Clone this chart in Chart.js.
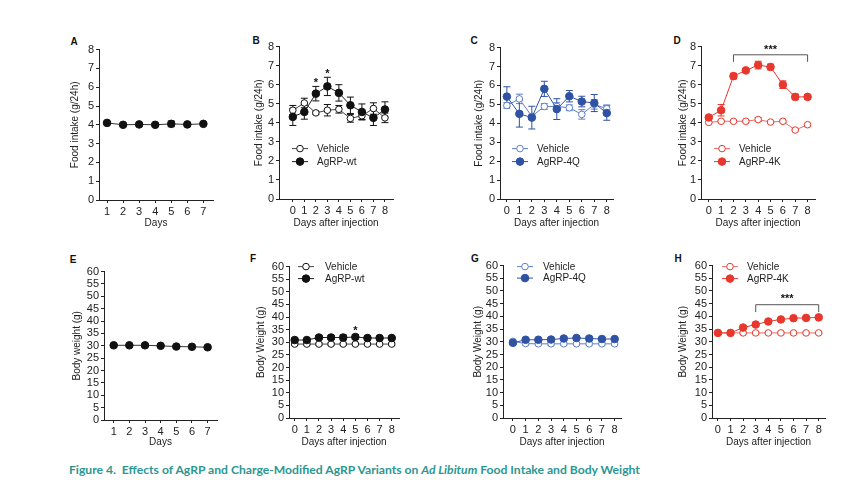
<!DOCTYPE html>
<html>
<head>
<meta charset="utf-8">
<script src="https://cdn.jsdelivr.net/npm/chart.js@4.4.0/dist/chart.umd.min.js"></script>
<style>
  body { margin: 0; background: #fff; width: 864px; height: 480px; position: relative; overflow: hidden; font-family: "Liberation Sans", Arial, sans-serif; }
  .panel { position: absolute; }
  .tag { position: absolute; font-weight: bold; font-size: 10px; color: #111; transform: translate(-50%, -50%); }
  #caption { position: absolute; left: 69px; top: 463px; font-family: Lato, "Liberation Sans", sans-serif; font-weight: bold; font-size: 11px; color: #2a9792; white-space: nowrap; transform-origin: left center; }
</style>
</head>
<body>
<div class="tag" style="left:74px;top:41px">A</div>
<div class="tag" style="left:256px;top:40px">B</div>
<div class="tag" style="left:474px;top:40px">C</div>
<div class="tag" style="left:677px;top:40px">D</div>
<div class="tag" style="left:73px;top:259px">E</div>
<div class="tag" style="left:253px;top:258px">F</div>
<div class="tag" style="left:475px;top:258px">G</div>
<div class="tag" style="left:678px;top:258px">H</div>
<div id="caption">Figure 4.&nbsp; Effects of AgRP and Charge-Modified AgRP Variants on <i>Ad Libitum</i> Food Intake and Body Weight</div>

<script>
// days
const daysA = [1, 2, 3, 4, 5, 6, 7];
const daysInj = [0, 1, 2, 3, 4, 5, 6, 7, 8];

// A - food intake, baseline
const foodA = [4.1, 4.0, 4.02, 4.0, 4.05, 4.02, 4.05];
const foodAErr = [0.06, 0.05, 0.05, 0.05, 0.15, 0.05, 0.05];

// B - AgRP-wt
const foodVehB = [4.66, 5.04, 4.52, 4.66, 4.71, 4.23, 4.37, 4.75, 4.26];
const foodVehBErr = [0.25, 0.25, 0.08, 0.3, 0.2, 0.2, 0.2, 0.3, 0.25];
const foodWtB = [4.31, 4.57, 5.53, 5.91, 5.57, 4.92, 4.57, 4.26, 4.7];
const foodWtBErr = [0.45, 0.38, 0.38, 0.48, 0.43, 0.43, 0.42, 0.4, 0.4];

// C - AgRP-4Q
const foodVehC = [4.94, 5.29, 4.37, 4.89, 4.89, 4.82, 4.47, 5.0, 4.77];
const foodVehCErr = [0.15, 0.25, 0.1, 0.15, 0.2, 0.15, 0.25, 0.25, 0.2];
const food4QC = [5.41, 4.5, 4.3, 5.82, 4.75, 5.43, 5.15, 5.07, 4.54];
const food4QCErr = [0.52, 0.7, 0.6, 0.4, 0.55, 0.3, 0.28, 0.45, 0.38];

// D - AgRP-4K
const foodVehD = [4.02, 4.08, 4.08, 4.08, 4.17, 4.04, 4.08, 3.62, 3.9];
const foodVehDErr = [0.05, 0.05, 0.05, 0.05, 0.1, 0.05, 0.05, 0.05, 0.05];
const food4KD = [4.28, 4.66, 6.45, 6.75, 7.03, 6.93, 6.0, 5.36, 5.36];
const food4KDErr = [0.06, 0.3, 0.15, 0.08, 0.2, 0.15, 0.2, 0.15, 0.12];

// E - body weight, baseline
const bwE = [30.2, 30.2, 30.2, 30.0, 29.7, 29.6, 29.4];
const bwEErr = [0.4, 0.4, 0.4, 0.4, 0.4, 0.4, 0.4];

// F
const bwVehF = [29.3, 29.3, 29.3, 29.3, 29.3, 29.3, 29.3, 29.3, 29.3];
const bwVehFErr = [0.5, 0.5, 0.5, 0.5, 0.5, 0.5, 0.5, 0.5, 0.5];
const bwWtF = [30.9, 30.9, 31.9, 31.9, 31.9, 32.1, 31.7, 31.7, 31.7];
const bwWtFErr = [0.8, 0.6, 0.7, 0.8, 1.0, 0.9, 0.6, 0.6, 0.6];

// G
const bwVehG = [30.2, 29.3, 29.2, 29.2, 29.2, 29.2, 29.2, 29.2, 29.2];
const bwVehGErr = [0.5, 0.5, 0.5, 0.5, 0.5, 0.5, 0.5, 0.5, 0.5];
const bw4QG = [29.6, 30.8, 30.8, 30.9, 31.3, 31.5, 31.3, 31.1, 31.1];
const bw4QGErr = [0.6, 0.6, 0.6, 0.6, 0.6, 0.6, 0.6, 0.6, 0.6];

// H
const bwVehH = [33.5, 33.5, 33.5, 33.5, 33.5, 33.5, 33.5, 33.5, 33.5];
const bwVehHErr = [0.4, 0.4, 0.4, 0.4, 0.4, 0.4, 0.4, 0.4, 0.4];
const bw4KH = [33.5, 33.5, 35.6, 36.8, 38.0, 38.8, 39.3, 39.4, 39.6];
const bw4KHErr = [0.5, 0.5, 0.5, 0.5, 0.5, 0.5, 0.5, 0.5, 0.5];

const foodTicks = [0, 1, 2, 3, 4, 5, 6, 7, 8];
const bwTicks = [0, 5, 10, 15, 20, 25, 30, 35, 40, 45, 50, 55, 60];

const BLACK = "#111111";
const BLUE = "#2f52a5", BLUE_LT = "#5f7fc8";
const RED = "#e8382d", RED_LT = "#ef6a63";
const FONT = { family: "'Liberation Sans', Arial, sans-serif", size: 10 };
const TICK_FONT = { family: "'Liberation Sans', Arial, sans-serif", size: 11 };

function pts(xs, ys) {
  return xs.map((x, i) => ({ x: x, y: ys[i] }));
}

function series(label, xs, ys, errs, color, lineColor, filled) {
  return {
    label: label,
    data: pts(xs, ys),
    errBars: errs,
    borderColor: lineColor,
    borderWidth: 1,
    pointRadius: filled ? 3.8 : 3.3,
    pointBorderWidth: 1,
    pointBorderColor: color,
    pointBackgroundColor: filled ? color : "#ffffff",
    markColor: color,
    filled: filled,
    order: filled ? 0 : 1,
    tension: 0
  };
}

// error bars under the markers
const errorBars = {
  id: "errorBars",
  beforeDatasetsDraw(chart) {
    const { ctx, scales: { x, y } } = chart;
    ctx.save();
    ctx.lineWidth = 1;
    chart.data.datasets.forEach(ds => {
      if (!ds.errBars) return;
      ctx.strokeStyle = ds.markColor;
      ds.data.forEach((p, i) => {
        const e = ds.errBars[i];
        const px = x.getPixelForValue(p.x);
        const y1 = y.getPixelForValue(p.y + e), y2 = y.getPixelForValue(p.y - e);
        ctx.beginPath();
        ctx.moveTo(px, y1); ctx.lineTo(px, y2);
        ctx.moveTo(px - 3.5, y1); ctx.lineTo(px + 3.5, y1);
        ctx.moveTo(px - 3.5, y2); ctx.lineTo(px + 3.5, y2);
        ctx.stroke();
      });
    });
    ctx.restore();
  }
};

// stars, brackets and the little legend
const extras = {
  id: "extras",
  afterDatasetsDraw(chart, args, opts) {
    const { ctx, chartArea, scales: { x, y } } = chart;
    ctx.save();
    if (opts.bracket) {
      const b = opts.bracket;
      const x1 = x.getPixelForValue(b.x1), x2 = x.getPixelForValue(b.x2);
      const yb = y.getPixelForValue(b.y), yd = y.getPixelForValue(b.drop);
      ctx.strokeStyle = "#555";
      ctx.lineWidth = 1;
      ctx.beginPath();
      ctx.moveTo(x1, yd); ctx.lineTo(x1, yb); ctx.lineTo(x2, yb); ctx.lineTo(x2, yd);
      ctx.stroke();
    }
    (opts.stars || []).forEach(s => {
      ctx.fillStyle = BLACK;
      ctx.font = "bold 11px 'Liberation Sans', Arial, sans-serif";
      ctx.textAlign = "center";
      ctx.textBaseline = "middle";
      ctx.fillText(s.text, x.getPixelForValue(s.x), y.getPixelForValue(s.y) + 2);
    });
    if (opts.legend) {
      const L = opts.legend;
      ctx.font = "10px 'Liberation Sans', Arial, sans-serif";
      ctx.textAlign = "left";
      ctx.textBaseline = "middle";
      chart.data.datasets.forEach((ds, i) => {
        const lx = chartArea.left + L.dx, ly = chartArea.top + L.dy + i * L.gap;
        ctx.strokeStyle = ds.borderColor;
        ctx.lineWidth = 1;
        ctx.beginPath(); ctx.moveTo(lx, ly); ctx.lineTo(lx + 16, ly); ctx.stroke();
        ctx.beginPath(); ctx.arc(lx + 8, ly, ds.pointRadius, 0, Math.PI * 2);
        ctx.fillStyle = ds.filled ? ds.markColor : "#fff";
        ctx.fill();
        ctx.strokeStyle = ds.markColor; ctx.stroke();
        ctx.fillStyle = "#222";
        ctx.fillText(ds.label, lx + L.text, ly + 0.5);
      });
    }
    ctx.restore();
  }
};

function makePanel(p) {
  const padTop = 8, padRight = 6;
  const div = document.createElement("div");
  div.className = "panel";
  const w = p.yW + (p.right - p.left) + padRight;
  const h = padTop + (p.zero - p.top) + p.xH;
  div.style.left = (p.left - p.yW) + "px";
  div.style.top = (p.top - padTop) + "px";
  const canvas = document.createElement("canvas");
  canvas.width = w; canvas.height = h;
  canvas.style.width = w + "px"; canvas.style.height = h + "px";
  div.appendChild(canvas);
  document.body.appendChild(div);

  new Chart(canvas.getContext("2d"), {
    type: "line",
    data: { datasets: p.datasets },
    options: {
      responsive: false,
      animation: false,
      devicePixelRatio: 1,
      layout: { padding: { top: padTop, right: padRight, left: 0, bottom: 0 } },
      plugins: {
        legend: { display: false },
        tooltip: { enabled: false },
        extras: { legend: p.legend, stars: p.stars, bracket: p.bracket }
      },
      scales: {
        x: {
          type: "linear",
          min: p.xMin, max: p.xMax,
          afterBuildTicks: s => { s.ticks = p.xTicks.map(v => ({ value: v })); },
          afterFit: s => { s.height = p.xH; },
          grid: { drawOnChartArea: false, tickLength: 3, color: "#222" },
          border: { color: "#222", width: 1 },
          ticks: { font: TICK_FONT, color: "#222", padding: 2, maxRotation: 0, autoSkip: false },
          title: { display: true, text: p.xTitle, font: FONT, color: "#222", padding: 0 }
        },
        y: {
          min: 0, max: p.yMax,
          afterBuildTicks: s => { s.ticks = p.yTicks.map(v => ({ value: v })); },
          afterFit: s => { s.width = p.yW; },
          grid: { drawOnChartArea: false, tickLength: 3, color: "#222" },
          border: { color: "#222", width: 1 },
          ticks: { font: TICK_FONT, color: "#222", padding: 2, autoSkip: false },
          title: { display: true, text: p.yTitle, font: FONT, color: "#222", padding: 0 }
        }
      }
    },
    plugins: [errorBars, extras]
  });
}

const panels = [
  { left: 99, right: 213, top: 49, zero: 200, yW: 30, xH: 29, xMin: 0.5, xMax: 7.6,
    xTicks: daysA, yTicks: foodTicks, yMax: 8, xTitle: "Days", yTitle: "Food intake (g/24h)",
    datasets: [series("Food intake", daysA, foodA, foodAErr, BLACK, "#333", true)] },
  { left: 279, right: 393, top: 46, zero: 199, yW: 26, xH: 30, xMin: -1.2, xMax: 8.7,
    xTicks: daysInj, yTicks: foodTicks, yMax: 8, xTitle: "Days after injection", yTitle: "Food intake (g/24h)",
    datasets: [series("Vehicle", daysInj, foodVehB, foodVehBErr, BLACK, "#444", false),
               series("AgRP-wt", daysInj, foodWtB, foodWtBErr, BLACK, "#222", true)],
    legend: { dx: 13, dy: 102, gap: 13, text: 25 },
    stars: [{ x: 2, y: 6.2, text: "*" }, { x: 3, y: 6.66, text: "*" }] },
  { left: 500, right: 613, top: 47, zero: 199, yW: 27, xH: 30, xMin: -0.55, xMax: 8.5,
    xTicks: daysInj, yTicks: foodTicks, yMax: 8, xTitle: "Days after injection", yTitle: "Food intake (g/24h)",
    datasets: [series("Vehicle", daysInj, foodVehC, foodVehCErr, BLUE_LT, BLUE_LT, false),
               series("AgRP-4Q", daysInj, food4QC, food4QCErr, BLUE, BLUE, true)],
    legend: { dx: 12, dy: 101, gap: 13, text: 25 } },
  { left: 701, right: 815, top: 46, zero: 199, yW: 24, xH: 30, xMin: -0.63, xMax: 8.6,
    xTicks: daysInj, yTicks: foodTicks, yMax: 8, xTitle: "Days after injection", yTitle: "Food intake (g/24h)",
    datasets: [series("Vehicle", daysInj, foodVehD, foodVehDErr, RED, RED_LT, false),
               series("AgRP-4K", daysInj, food4KD, food4KDErr, RED, RED, true)],
    legend: { dx: 13, dy: 102, gap: 13, text: 25 },
    bracket: { x1: 2, x2: 8, y: 7.57, drop: 7.2 },
    stars: [{ x: 5, y: 7.95, text: "***" }] },
  { left: 104, right: 217, top: 271, zero: 420, yW: 33, xH: 28, xMin: 0.38, xMax: 7.6,
    xTicks: daysA, yTicks: bwTicks, yMax: 60, xTitle: "Days", yTitle: "Body weight (g)",
    datasets: [series("Body weight", daysA, bwE, bwEErr, BLACK, "#333", true)] },
  { left: 289, right: 399, top: 266, zero: 418, yW: 34, xH: 30, xMin: -0.47, xMax: 8.6,
    xTicks: daysInj, yTicks: bwTicks, yMax: 60, xTitle: "Days after injection", yTitle: "Body Weight (g)",
    datasets: [series("Vehicle", daysInj, bwVehF, bwVehFErr, BLACK, "#444", false),
               series("AgRP-wt", daysInj, bwWtF, bwWtFErr, BLACK, "#222", true)],
    legend: { dx: 9, dy: 0, gap: 12, text: 27 },
    stars: [{ x: 5, y: 35.3, text: "*" }] },
  { left: 503, right: 621, top: 265, zero: 418, yW: 31, xH: 30, xMin: -0.78, xMax: 8.5,
    xTicks: daysInj, yTicks: bwTicks, yMax: 60, xTitle: "Days after injection", yTitle: "Body Weight (g)",
    datasets: [series("Vehicle", daysInj, bwVehG, bwVehGErr, BLUE_LT, BLUE_LT, false),
               series("AgRP-4Q", daysInj, bw4QG, bw4QGErr, BLUE, BLUE, true)],
    legend: { dx: 14, dy: 1, gap: 11.5, text: 26 } },
  { left: 712, right: 825, top: 265, zero: 418, yW: 35, xH: 30, xMin: -0.47, xMax: 8.5,
    xTicks: daysInj, yTicks: bwTicks, yMax: 60, xTitle: "Days after injection", yTitle: "Body Weight (g)",
    datasets: [series("Vehicle", daysInj, bwVehH, bwVehHErr, RED, RED_LT, false),
               series("AgRP-4K", daysInj, bw4KH, bw4KHErr, RED, RED, true)],
    legend: { dx: 10, dy: 1, gap: 12, text: 25 },
    bracket: { x1: 3, x2: 8, y: 44.6, drop: 41.7 },
    stars: [{ x: 5.5, y: 47.5, text: "***" }] }
];

panels.forEach(makePanel);

// stretch caption to the width it has in the figure
const cap = document.getElementById("caption");
cap.style.transform = "scaleX(" + (571 / cap.offsetWidth) + ")";
</script>
</body>
</html>
